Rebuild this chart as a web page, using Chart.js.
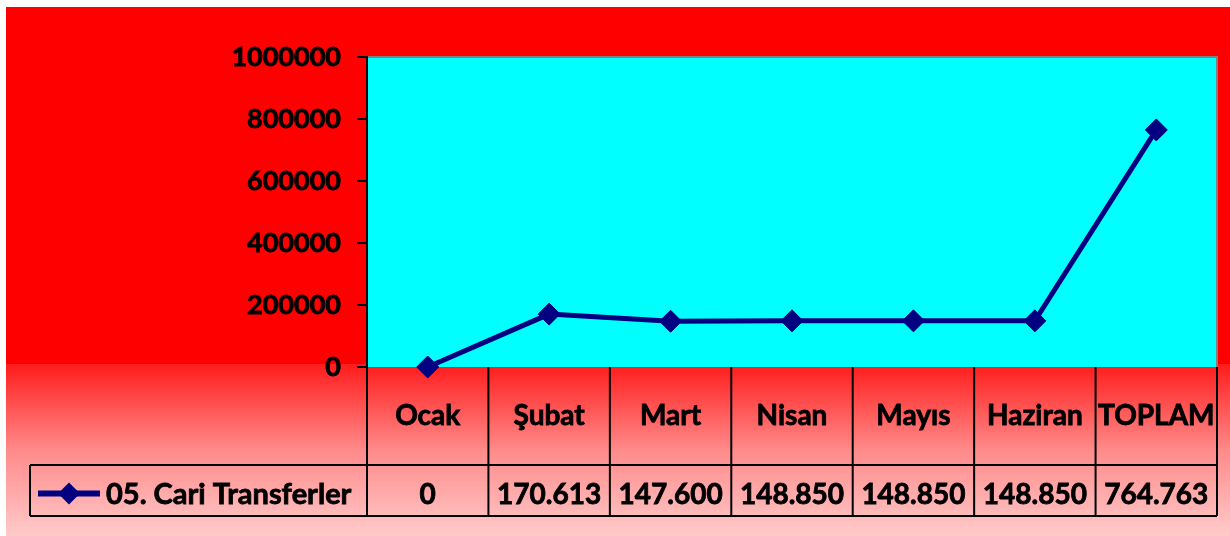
<!DOCTYPE html>
<html>
<head>
<meta charset="utf-8">
<script src="https://cdn.jsdelivr.net/npm/chart.js@4"></script>
<style>
  body { margin: 0; background: #fff; }
  canvas { display: block; }
</style>
</head>
<body>
<canvas id="lineChart" width="1230" height="536"></canvas>
<script>
// data
const months = ['Ocak', 'Şubat', 'Mart', 'Nisan', 'Mayıs', 'Haziran', 'TOPLAM'];
const cariTransferler = [0, 170613, 147600, 148850, 148850, 148850, 764763];
const seriesName = '05. Cari Transferler';
const yTicks = [0, 200000, 400000, 600000, 800000, 1000000];

const FONT = 'Lato';
const NAVY = '#000080';

// 170613 -> "170.613"
const fmt = (v) => String(v).replace(/\B(?=(\d{3})+(?!\d))/g, '.');

const backgroundPlugin = {
  id: 'background',
  beforeDraw(chart) {
    const { ctx, chartArea } = chart;
    ctx.save();
    ctx.fillStyle = '#ffffff';
    ctx.fillRect(0, 0, chart.width, chart.height);
    // plain red top part
    ctx.fillStyle = '#ff0000';
    ctx.fillRect(6, 7, chart.width - 6, chartArea.bottom - 10);
    // fading to pink under the plot
    const grad = ctx.createLinearGradient(0, chartArea.bottom - 3, 0, chart.height);
    grad.addColorStop(0, '#ff1c1c');
    grad.addColorStop(0.5, '#ff8a8a');
    grad.addColorStop(1, '#ffcaca');
    ctx.fillStyle = grad;
    ctx.fillRect(6, chartArea.bottom - 3, chart.width - 6, chart.height - chartArea.bottom + 3);
    // plot area
    ctx.fillStyle = '#00ffff';
    ctx.fillRect(chartArea.left, chartArea.top, chartArea.right - chartArea.left, chartArea.bottom - chartArea.top);
    ctx.strokeStyle = '#808080';
    ctx.lineWidth = 2;
    ctx.beginPath();
    ctx.moveTo(chartArea.left, chartArea.top);
    ctx.lineTo(chartArea.right, chartArea.top);
    ctx.lineTo(chartArea.right, chartArea.bottom);
    ctx.stroke();
    ctx.restore();
  },
};

// bold text with a thin outline so it reads as heavy as the original
function heavyText(ctx, text, x, y) {
  ctx.fillText(text, x, y);
  ctx.strokeText(text, x, y);
}

// data table under the plot, with the legend in its first cell
const tablePlugin = {
  id: 'dataTable',
  beforeDatasetsDraw(chart) {
    const { ctx, chartArea } = chart;
    const x = chart.scales.x;
    const top = chartArea.bottom;
    const mid = top + 98;
    const bottom = mid + 51;
    const legendLeft = 30;
    const colW = (chartArea.right - chartArea.left) / months.length;

    ctx.save();
    ctx.strokeStyle = '#000';
    ctx.lineWidth = 2;
    ctx.beginPath();
    for (let i = 0; i <= months.length; i++) {
      const cx = chartArea.left + i * colW;
      ctx.moveTo(cx, top);
      ctx.lineTo(cx, bottom);
    }
    ctx.moveTo(legendLeft, mid);
    ctx.lineTo(chartArea.right, mid);
    ctx.moveTo(legendLeft, bottom);
    ctx.lineTo(chartArea.right, bottom);
    ctx.moveTo(legendLeft, mid);
    ctx.lineTo(legendLeft, bottom);
    ctx.stroke();

    ctx.fillStyle = '#000';
    ctx.lineWidth = 0.8;
    ctx.font = `bold 28px ${FONT}`;
    ctx.textAlign = 'center';
    ctx.textBaseline = 'middle';
    const ly = (mid + bottom) / 2 + 4;
    months.forEach((m, i) => {
      const cx = x.getPixelForValue(i);
      heavyText(ctx, m, cx, (top + mid) / 2);
      heavyText(ctx, fmt(cariTransferler[i]), cx, ly);
    });

    // legend key
    ctx.strokeStyle = NAVY;
    ctx.lineWidth = 6;
    ctx.beginPath();
    ctx.moveTo(38, ly - 1);
    ctx.lineTo(100, ly - 1);
    ctx.stroke();
    ctx.fillStyle = NAVY;
    ctx.beginPath();
    ctx.moveTo(69, ly - 12);
    ctx.lineTo(80, ly - 1);
    ctx.lineTo(69, ly + 10);
    ctx.lineTo(58, ly - 1);
    ctx.closePath();
    ctx.fill();
    ctx.fillStyle = '#000';
    ctx.strokeStyle = '#000';
    ctx.lineWidth = 0.8;
    ctx.textAlign = 'left';
    ctx.font = `bold 29px ${FONT}`;
    heavyText(ctx, seriesName, 106, ly);
    ctx.restore();
  },
};

new Chart(document.getElementById('lineChart'), {
  type: 'line',
  data: {
    labels: months,
    datasets: [{
      label: seriesName,
      data: cariTransferler,
      borderColor: NAVY,
      backgroundColor: NAVY,
      borderWidth: 5,
      pointStyle: 'rectRot',
      pointRadius: 11,
      pointBorderWidth: 1,
      tension: 0,
      clip: false,
    }],
  },
  options: {
    responsive: false,
    animation: false,
    layout: { padding: { left: 0, top: 57, right: 13, bottom: 169 } },
    plugins: {
      legend: { display: false },
      tooltip: { enabled: false },
    },
    scales: {
      x: {
        type: 'category',
        offset: true,
        display: false,
      },
      y: {
        min: 0,
        max: 1000000,
        afterFit: (scale) => { scale.width = 367; },
        afterBuildTicks: (scale) => { scale.ticks = yTicks.map((v) => ({ value: v })); },
        grid: {
          drawOnChartArea: false,
          drawTicks: true,
          tickLength: 10,
          color: '#000',
          lineWidth: 2,
        },
        border: { display: true, color: '#000', width: 2 },
        ticks: {
          color: '#000',
          padding: 16,
          textStrokeColor: '#000',
          textStrokeWidth: 0.8,
          font: { family: FONT, size: 27, weight: 'bold' },
          callback: (v) => String(v),
        },
      },
    },
  },
  plugins: [backgroundPlugin, tablePlugin],
});
</script>
</body>
</html>
